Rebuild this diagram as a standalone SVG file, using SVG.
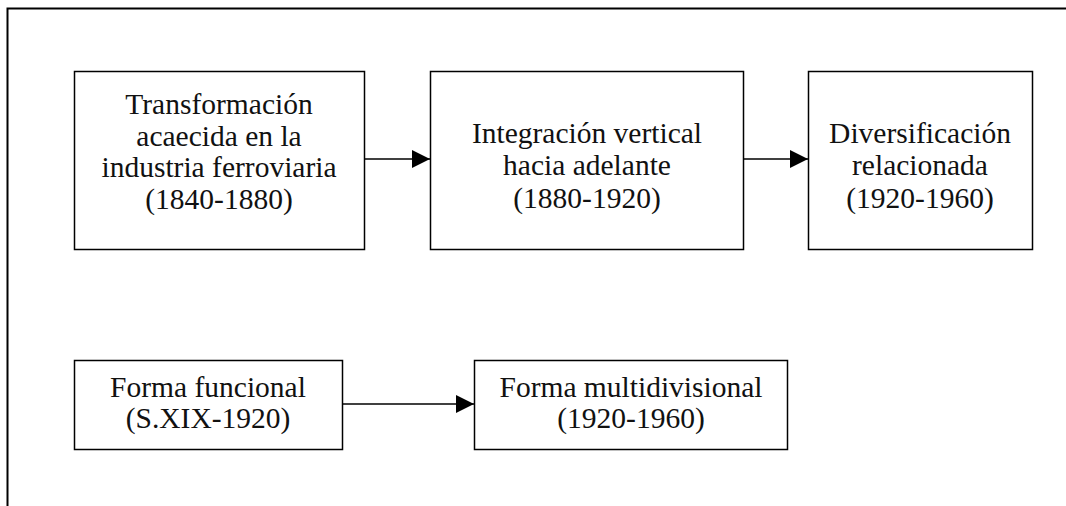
<svg xmlns="http://www.w3.org/2000/svg" width="1066" height="506" viewBox="0 0 1066 506">
<style>
.box{fill:#fff;stroke:#000;stroke-width:1.5}
.t{font-family:"Liberation Serif","Times New Roman",serif;font-size:29.5px;fill:#111;text-anchor:middle}
.c{stroke:#000;stroke-width:1.5;fill:none}
</style>
<defs>
<marker id="ah" markerUnits="userSpaceOnUse" markerWidth="20" markerHeight="20" refX="18" refY="9" orient="auto">
<path d="M0,0 L18,9 L0,18 Z" fill="#000"/>
</marker>
</defs>
<rect width="1066" height="506" fill="#fff"/>
<path d="M7.5,506 V8.5 H1066" fill="none" stroke="#000" stroke-width="2"/>
<g id="connectors">
<line class="c" x1="364" y1="159" x2="430" y2="159" marker-end="url(#ah)"/>
<line class="c" x1="743" y1="159" x2="808" y2="159" marker-end="url(#ah)"/>
<line class="c" x1="342" y1="404" x2="474" y2="404" marker-end="url(#ah)"/>
</g>
<g id="n1">
<rect class="box" x="74.5" y="71.5" width="290" height="178"/>
<text class="t" x="219" y="114">Transformación</text>
<text class="t" x="219" y="146">acaecida en la</text>
<text class="t" x="219" y="177">industria ferroviaria</text>
<text class="t" x="219" y="209">(1840-1880)</text>
</g>
<g id="n2">
<rect class="box" x="430.5" y="71.5" width="313" height="178"/>
<text class="t" x="587" y="143">Integración vertical</text>
<text class="t" x="587" y="175">hacia adelante</text>
<text class="t" x="587" y="208">(1880-1920)</text>
</g>
<g id="n3">
<rect class="box" x="808.5" y="71.5" width="224" height="178"/>
<text class="t" x="920" y="143">Diversificación</text>
<text class="t" x="920" y="175">relacionada</text>
<text class="t" x="920" y="208">(1920-1960)</text>
</g>
<g id="n4">
<rect class="box" x="74.5" y="360.5" width="268" height="89"/>
<text class="t" x="208" y="397">Forma funcional</text>
<text class="t" x="208" y="428">(S.XIX-1920)</text>
</g>
<g id="n5">
<rect class="box" x="474.5" y="360.5" width="313" height="89"/>
<text class="t" x="631" y="397">Forma multidivisional</text>
<text class="t" x="631" y="428">(1920-1960)</text>
</g>
</svg>
